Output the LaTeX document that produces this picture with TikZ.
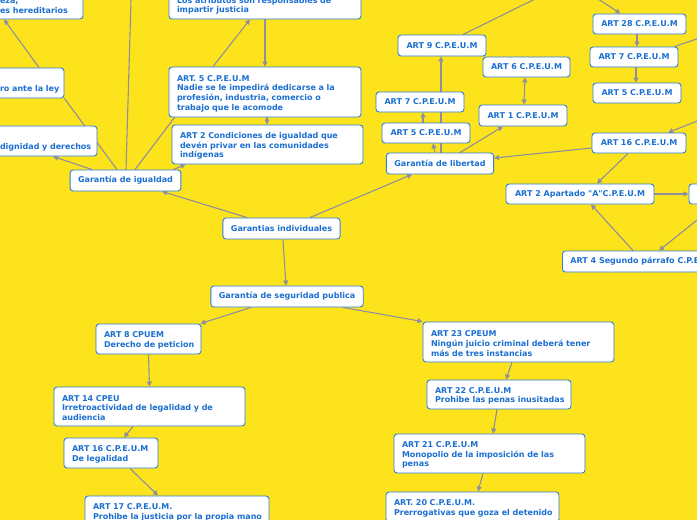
\documentclass[tikz,border=0pt]{standalone}
\usepackage{fontspec}
\setmainfont{DejaVu Sans}[Ligatures=TeXOff]
\usetikzlibrary{arrows.meta}
\definecolor{bgy}{HTML}{FCE31B}
\definecolor{txtb}{HTML}{1B6FD2}
\definecolor{brd}{HTML}{2E7FD6}
\definecolor{lng}{HTML}{8F8F9E}
\pgfdeclarelayer{background}
\pgfsetlayers{background,main}
\tikzset{
  box/.style={draw=brd, line width=0.9pt, fill=white, rounded corners=3pt, text=txtb,
    font=\fontsize{8}{9.6}\selectfont\bfseries, inner xsep=8pt, inner ysep=1pt},
  conn/.style={draw=lng, line width=1.1pt},
  arr/.style={conn, -{Triangle[length=5pt,width=5pt]}},
  darr/.style={conn, {Triangle[length=5pt,width=5pt]}-{Triangle[length=5pt,width=5pt]}},
}
\newcommand{\bx}[6]{\node[box, minimum width={(#4-(#2))*1pt}, minimum height={(#5-(#3))*1pt}] (#1) at ({(#2+#4)/2},{(#3+#5)/2}) {#6};}
\newcommand{\bxm}[6]{\node[box, align=left, text width={(#4-(#2)-16)*1pt}, minimum width={(#4-(#2))*1pt}, minimum height={(#5-(#3))*1pt}] (#1) at ({(#2+#4)/2},{(#3+#5)/2}) {\rule{0pt}{9pt}#6};}
\begin{document}
\begin{tikzpicture}[x=1pt,y=-1pt]
\useasboundingbox (0,0) rectangle (697,520);
\clip (0,0) rectangle (697,520);
% nodes
\bxm{eza}{-8}{-20}{83}{19}{\mbox{\vphantom{Ag}}\\\mbox{eza,}\\\mbox{es hereditarios}}
\bxm{ro}{-8}{68}{64}{98}{\mbox{\vphantom{Ag}}\\\mbox{ro ante la ley}}
\bxm{dig}{-8}{126}{97}{156}{\mbox{\vphantom{Ag}}\\\mbox{dignidad y derechos}}
\bx{garig}{71}{170}{180}{191}{Garantía de igualdad}
\bxm{atrib}{169}{-20}{361}{19}{\mbox{\vphantom{Ag}}\\\mbox{Los atributos son responsables de}\\\mbox{impartir justicia}}
\bxm{artVa}{169}{67}{361}{117}{\mbox{ART. 5 C.P.E.U.M}\\\mbox{Nadie se le impedirá dedicarse a la}\\\mbox{profesión, industria, comercio o}\\\mbox{trabajo que le acomode}}
\bxm{artIIa}{172}{125}{363}{164}{\mbox{ART 2 Condiciones de igualdad que}\\\mbox{devén privar en las comunidades}\\\mbox{indígenas}}
\bx{gi}{223}{218}{340}{239}{Garantias individuales}
\bx{gsp}{212}{286}{362}{307}{Garantía de seguridad publica}
\bxm{art8}{96}{324}{201}{354}{\mbox{ART 8 CPUEM}\\\mbox{Derecho de peticion}}
\bxm{art14}{54}{387}{245}{426}{\mbox{ART 14 CPEU}\\\mbox{Irretroactividad de legalidad y de}\\\mbox{audiencia}}
\bxm{art16a}{64}{438}{158}{468}{\mbox{ART 16 C.P.E.U.M}\\\mbox{De legalidad}}
\bxm{art17}{85}{496}{269}{526}{\mbox{ART 17 C.P.E.U.M.}\\\mbox{Prohibe la justicia por la propia mano}}
\bxm{art23}{423}{322}{614}{362}{\mbox{ART 23 CPEUM}\\\mbox{Ningún juicio criminal deberá tener}\\\mbox{más de tres instancias}}
\bxm{art22}{427}{380}{571}{409}{\mbox{ART 22 C.P.E.U.M}\\\mbox{Prohibe las penas inusitadas}}
\bxm{art21}{394}{434}{585}{473}{\mbox{ART 21 C.P.E.U.M}\\\mbox{Monopolio de la imposición de las}\\\mbox{penas}}
\bxm{art20}{386}{492}{559}{522}{\mbox{ART. 20 C.P.E.U.M.}\\\mbox{Prerrogativas que goza el detenido}}
\bx{gl}{387}{153}{493}{174}{Garantía de libertad}
\bx{art5b}{382}{123}{470}{143}{ART 5 C.P.E.U.M}
\bx{art7b}{376}{92}{464}{112}{ART 7 C.P.E.U.M}
\bx{art9}{398}{35}{486}{56}{ART 9 C.P.E.U.M}
\bx{art6}{483}{57}{570}{77}{ART 6 C.P.E.U.M}
\bx{art1}{479}{105}{567}{126}{ART 1 C.P.E.U.M}
\bx{art28}{593}{14}{686}{34}{ART 28 C.P.E.U.M}
\bx{art7c}{590}{47}{678}{67}{ART 7 C.P.E.U.M}
\bx{art5c}{593}{83}{681}{103}{ART 5 C.P.E.U.M}
\bx{art16b}{592}{133}{686}{153}{ART 16 C.P.E.U.M}
\bx{art2ap}{506}{184}{654}{204}{ART 2 Apartado "A"C.P.E.U.M}
\bx{redge}{689}{184}{790}{204}{}
\node[box, anchor=west, minimum height=21pt] (art4) at (562,261.5) {ART 4 Segundo párrafo C.P.E.U.M};
% off-canvas ends
\coordinate (offA) at (131.3,-10);
\coordinate (offB) at (545,-6);
\coordinate (offC) at (595,-3);
\coordinate (offD) at (712,33.8);
\coordinate (offE) at (712,115.3);
\begin{pgfonlayer}{background}
\fill[bgy] (-20,-20) rectangle (720,540);
% central
\draw[arr] ([xshift=-34.5pt]gi.north) -- ([xshift=36.5pt]garig.south);
\draw[arr] ([xshift=28.5pt]gi.north) -- ([xshift=-28pt]gl.south);
\draw[arr] ([xshift=1.5pt]gi.south) -- ([xshift=-1pt]gsp.north);
% seguridad
\draw[arr] ([xshift=-36pt]gsp.south) -- ([xshift=-1pt]art8.north east);
\draw[arr] ([xshift=56pt]gsp.south) -- (art23.north west);
\draw[arr] (art8.south) -- (art14.north);
\draw[arr] ([xshift=-16.5pt]art14.south) -- ([xshift=13pt]art16a.north);
\draw[arr] ([xshift=19pt]art16a.south) -- ([xshift=-19pt]art17.north);
\draw[arr] ([xshift=-6.5pt]art23.south) -- ([xshift=7pt]art22.north);
\draw[arr] ([xshift=-2pt]art22.south) -- ([xshift=3.5pt]art21.north);
\draw[arr] ([xshift=-6.5pt]art21.south) -- ([xshift=5.5pt]art20.north);
% igualdad
\draw[arr] ([xshift=-33.5pt]garig.north) -- ([xshift=8.5pt]dig.south);
\draw[conn] ([xshift=-8.5pt]garig.north) -- (ro.south east);
\draw[arr] ([xshift=11pt]ro.north) -- ([xshift=-33.5pt]eza.south);
\draw[conn] ([xshift=0.5pt]garig.north) -- (offA);
\draw[conn] ([xshift=9.5pt]garig.north) -- ([xshift=6pt]artVa.south west);
\draw[arr] ([xshift=-8pt]garig.north east) -- ([xshift=14pt]artIIa.south west);
\draw[arr] ([xshift=-52pt]artVa.north) -- ([xshift=-15pt]atrib.south);
\draw[arr] (atrib.south) -- (artVa.north);
\draw[arr] ([xshift=2pt]artVa.south) -- ([xshift=-0.5pt]artIIa.north);
% libertad
\draw[arr] ([xshift=-5pt]gl.north) -- ([xshift=7pt]art5b.south);
\draw[arr] ([xshift=1pt]gl.north) -- ([xshift=-1pt]art9.south);
\draw[arr] ([xshift=-3pt]art5b.north) -- ([xshift=3pt]art7b.south);
\draw[arr] ([xshift=20pt]gl.north) -- ([xshift=-20pt]art1.south);
\draw[darr] ([xshift=1pt]art1.north) -- ([xshift=-1.5pt]art6.south);
\draw[conn] ([xshift=21pt]art9.north) -- (offB);
\draw[arr] (offC) -- ([xshift=-19pt]art28.north);
\draw[arr] ([xshift=-2.5pt]art28.south) -- ([xshift=3pt]art7c.north);
\draw[arr] ([xshift=2pt]art7c.south) -- ([xshift=-1pt]art5c.north);
\draw[conn] ([xshift=-4pt]art7c.north east) -- (offD);
\draw[arr] (offE) -- ([xshift=29pt]art16b.north);
\draw[arr] ([yshift=-5pt]art16b.west) -- ([yshift=5.5pt]gl.east);
\draw[arr] ([xshift=-11pt]art16b.south) -- ([xshift=17pt]art2ap.north);
\draw[arr] (art2ap.east) -- (redge.west);
\draw[arr] ([xshift=71pt]art4.north west) -- ([xshift=11pt]art2ap.south);
\draw[arr] ([xshift=28pt]redge.south west) -- ([xshift=97pt]art4.north west);
\end{pgfonlayer}
\end{tikzpicture}
\end{document}
